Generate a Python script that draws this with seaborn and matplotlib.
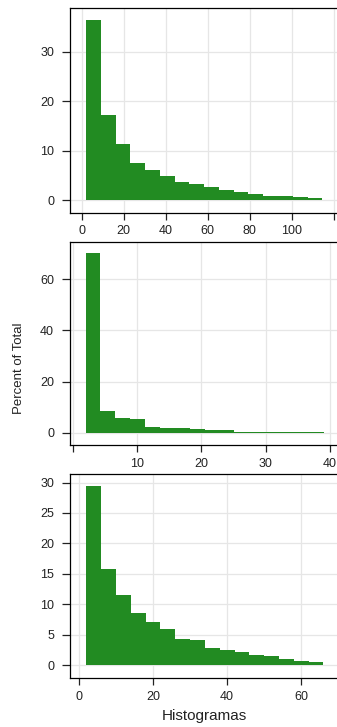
import numpy as np
import pandas as pd
import matplotlib
matplotlib.use('Agg')
import matplotlib.pyplot as plt
import seaborn as sns

"""Bin edges and percent of total, read from the reference"""
edges_1 = [2.0, 9.0, 16.1, 23.1, 30.2, 37.2, 44.2, 51.3, 58.3, 65.3, 72.4,
           79.4, 86.5, 93.5, 100.5, 107.6, 114.6]
pct_1 = [36.4, 17.2, 11.3, 7.6, 6.1, 4.9, 3.6, 3.3, 2.6, 2.0, 1.7, 1.3,
         0.9, 0.75, 0.6, 0.35]

edges_2 = [2.0, 4.3, 6.6, 8.9, 11.3, 13.6, 15.9, 18.2, 20.5, 22.8, 25.1,
           27.4, 29.8, 32.1, 34.4, 36.7, 39.0]
pct_2 = [70.2, 8.5, 5.9, 5.3, 2.2, 1.7, 1.7, 1.3, 0.9, 0.9, 0.4, 0.3,
         0.25, 0.2, 0.15, 0.1]

edges_3 = [2, 6, 10, 14, 18, 22, 26, 30, 34, 38, 42, 46, 50, 54, 58, 62, 66]
pct_3 = [29.5, 15.8, 11.5, 8.6, 7.1, 6.0, 4.3, 4.1, 2.85, 2.5, 2.1, 1.75,
         1.5, 1.0, 0.75, 0.55]

xticks_1 = [0, 20, 40, 60, 80, 100, 120]
xlabels_1 = ['0', '20', '40', '60', '80', '100', '']
yticks_1 = [0, 10, 20, 30]
xticks_2 = [0, 10, 20, 30, 40]
xlabels_2 = ['', '10', '20', '30', '40']
yticks_2 = [0, 20, 40, 60]
xticks_3 = [0, 20, 40, 60]
yticks_3 = [0, 5, 10, 15, 20, 25, 30]

sns.set_theme(style='white', rc={
    'axes.edgecolor': 'black',
    'axes.linewidth': 0.9,
    'xtick.bottom': True,
    'ytick.left': True,
    'xtick.direction': 'out',
    'ytick.direction': 'out',
    'xtick.major.size': 5,
    'ytick.major.size': 5.5,
    'xtick.major.width': 0.9,
    'ytick.major.width': 0.9,
    'xtick.color': '#222222',
    'ytick.color': '#222222',
})
plt.rcParams['font.family'] = ['Liberation Sans', 'DejaVu Sans']

fig = plt.figure(figsize=(3.37, 7.27), dpi=100)
W, H = 337, 727

panels = [
    (edges_1, pct_1, 8, 213, (-5.6, 122.5), (-2.6, 38.9), xticks_1, xlabels_1, yticks_1),
    (edges_2, pct_2, 242, 445, (-0.42, 41.4), (-4.8, 74.6), xticks_2, xlabels_2, yticks_2),
    (edges_3, pct_3, 474, 678, (-2.4, 70.2), (-2.1, 31.4), xticks_3, None, yticks_3),
]

green = '#228B22'
for edges, pct, top, bottom, xlim, ylim, xt, xl, yt in panels:
    ax = fig.add_axes([70 / W, 1 - bottom / H, 269 / W, (bottom - top) / H])
    mids = [(a + b) / 2 for a, b in zip(edges[:-1], edges[1:])]
    df = pd.DataFrame({'x': mids, 'pct': pct})
    sns.histplot(data=df, x='x', weights='pct', bins=edges, stat='count',
                 element='step', fill=True, color=green, alpha=1,
                 linewidth=0, ax=ax)
    for v in xt:
        ax.axvline(v, color='#e6e6e6', lw=0.9, zorder=0)
    for v in yt:
        ax.axhline(v, color='#e6e6e6', lw=0.9, zorder=0)
    ax.set_xlim(*xlim)
    ax.set_ylim(*ylim)
    ax.set_xticks(xt)
    if xl is not None:
        ax.set_xticklabels(xl)
    ax.set_yticks(yt)
    ax.spines['right'].set_visible(False)
    ax.tick_params(axis='both', labelsize=9, pad=4)
    ax.tick_params(axis='y', pad=6)
    ax.set_xlabel('')
    ax.set_ylabel('')

fig.text(19 / W, 1 - 368 / H, 'Percent of Total', rotation=90,
         ha='center', va='center', fontsize=9.5, color='#222222')
fig.text(204 / W, 1 - 716 / H, 'Histogramas', ha='center', va='center',
         fontsize=11, color='#222222')

fig.savefig('out.png', dpi=100)
